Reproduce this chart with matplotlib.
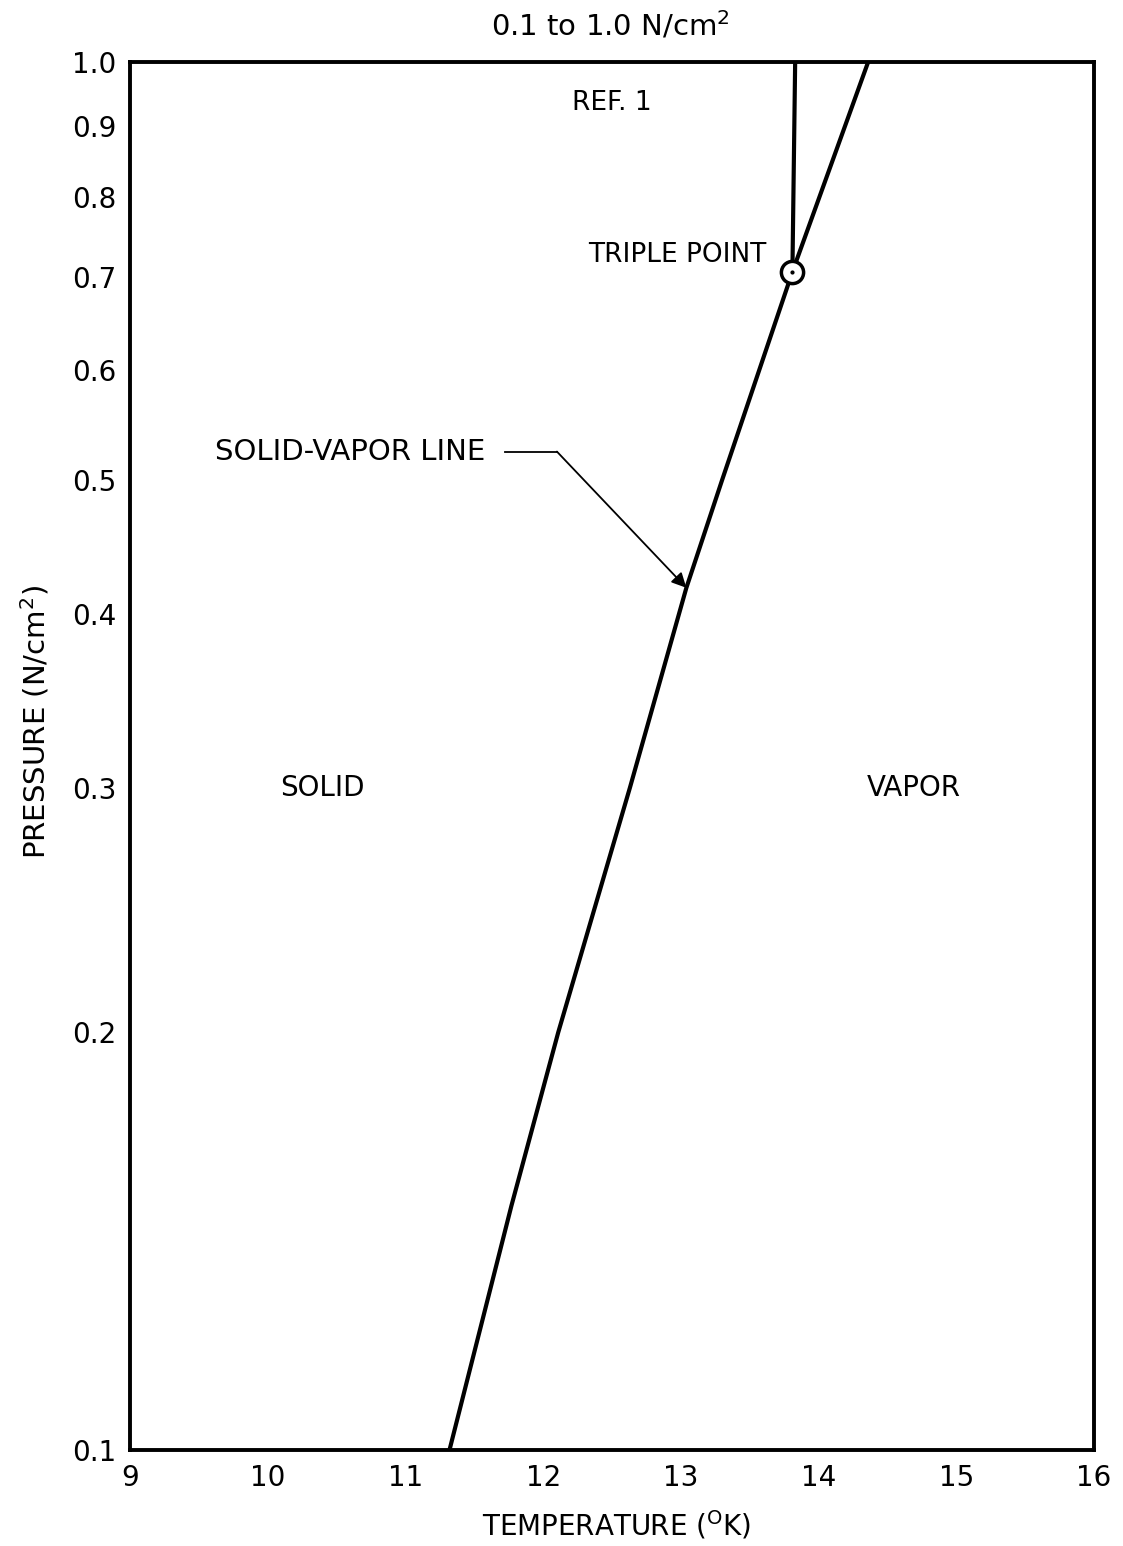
import matplotlib.pyplot as plt

# solid-vapor line
sv_T = [11.32, 11.77, 12.11, 12.63, 13.04, 13.30, 13.81, 14.36]
sv_P = [0.10, 0.15, 0.20, 0.30, 0.418, 0.50, 0.706, 1.0]

# melting line above the triple point
melt_T = [13.81, 13.83]
melt_P = [0.706, 1.0]

triple_T = 13.81
triple_P = 0.706

x_ticks = [9, 10, 11, 12, 13, 14, 15, 16]
y_ticks = [0.1, 0.2, 0.3, 0.4, 0.5, 0.6, 0.7, 0.8, 0.9, 1.0]
y_labels = ['0.1', '0.2', '0.3', '0.4', '0.5', '0.6', '0.7', '0.8', '0.9', '1.0']

plt.rcParams['font.family'] = ['DejaVu Sans']
fs = 20

fig = plt.figure(figsize=(11.23, 15.46), dpi=100)
ax = fig.add_axes([130/1123, 96/1546, 964/1123, 1388/1546])

ax.plot(sv_T, sv_P, 'k-', lw=3, solid_capstyle='butt')
ax.plot(melt_T, melt_P, 'k-', lw=3, solid_capstyle='butt')
ax.plot(triple_T, triple_P, 'o', ms=16, mfc='white', mec='k', mew=2.5)
ax.plot(triple_T, triple_P, 'k.', ms=4)

ax.set_yscale('log')
ax.set_xlim(9, 16)
ax.set_ylim(0.1, 1.0)
ax.set_xticks(x_ticks)
ax.set_xticklabels([str(t) for t in x_ticks], fontsize=fs)
ax.set_yticks(y_ticks)
ax.set_yticklabels(y_labels, fontsize=fs)
ax.minorticks_off()
ax.tick_params(length=0, pad=10)
for s in ax.spines.values():
    s.set_linewidth(2.8)

ax.text(12.49, 1.035, r'0.1 to 1.0 N/cm$^2$', ha='center', va='bottom', fontsize=fs + 1)
ax.text(12.5, 0.934, 'REF. 1', ha='center', va='center', fontsize=fs - 1)
ax.text(13.62, 0.726, 'TRIPLE POINT', ha='right', va='center', fontsize=fs - 1)
ax.text(10.4, 0.3, 'SOLID', ha='center', va='center', fontsize=fs)
ax.text(14.69, 0.3, 'VAPOR', ha='center', va='center', fontsize=fs)

# leader for the solid-vapor label
ax.text(9.62, 0.524, 'SOLID-VAPOR LINE', ha='left', va='center', fontsize=fs + 1)
ax.plot([11.72, 12.1], [0.524, 0.524], 'k-', lw=1.3)
ax.annotate('', xy=(13.04, 0.418), xytext=(12.1, 0.524),
            arrowprops=dict(arrowstyle='-|>', color='k', lw=1.3,
                            mutation_scale=22, shrinkA=0, shrinkB=0))

fig.text(617/1123, 1 - 1525/1546, r'TEMPERATURE ($^{\mathrm{O}}$K)',
         ha='center', va='center', fontsize=fs)
fig.text(35/1123, 1 - 722/1546, r'PRESSURE (N/cm$^2$)', rotation=90,
         ha='center', va='center', fontsize=fs + 1)

fig.savefig('out.png', dpi=100, facecolor='white')
